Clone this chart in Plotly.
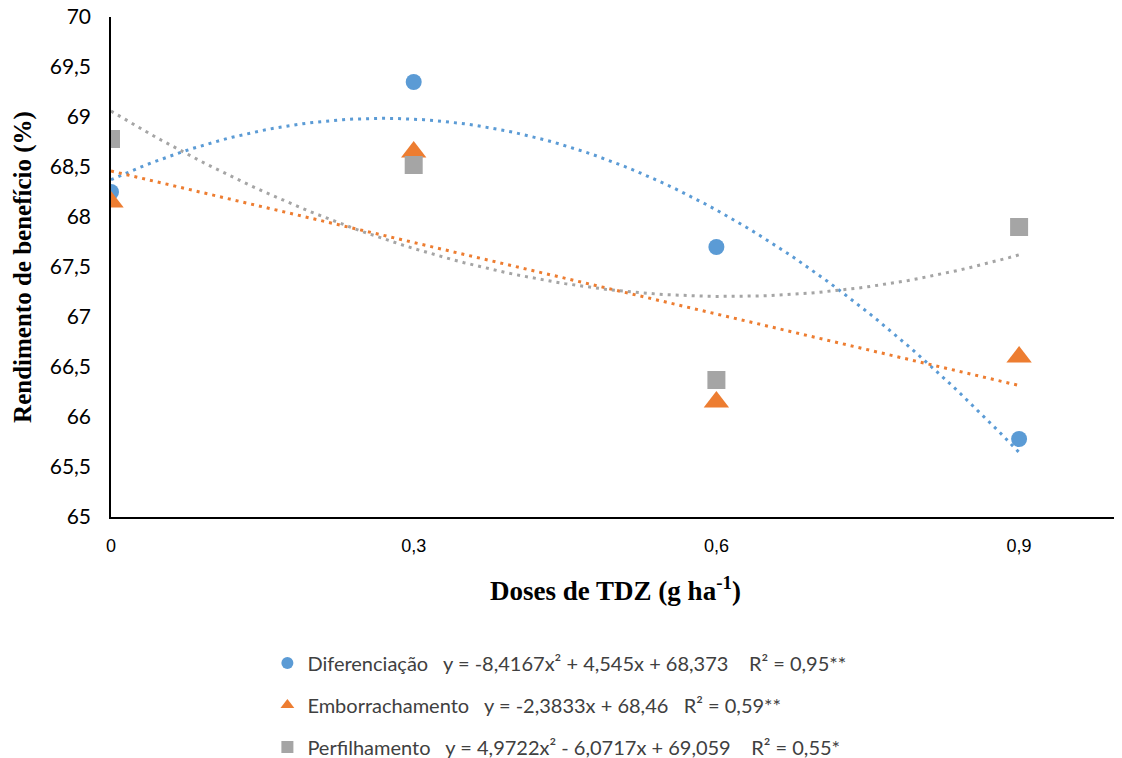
import numpy as np
import plotly.graph_objects as go

doses = [0, 0.3, 0.6, 0.9]
dif_vals = [68.25, 69.35, 67.70, 65.78]
emb_vals = [68.15, 68.65, 66.15, 66.60]
per_vals = [68.78, 68.52, 66.37, 67.90]

# trendline coefficients as printed in the legend (highest power first)
dif_coef = [-8.4167, 4.545, 68.373]
emb_coef = [-2.3833, 68.46]
per_coef = [4.9722, -6.0717, 69.059]

series_names = ["Diferenciação", "Emborrachamento", "Perfilhamento"]
eq_texts = [
    "y = -8,4167x² + 4,545x + 68,373    R² = 0,95**",
    "y = -2,3833x + 68,46   R² = 0,59**",
    "y = 4,9722x² - 6,0717x + 69,059    R² = 0,55*",
]
colors = ["#5B9BD5", "#ED7D31", "#A5A5A5"]
symbols = ["circle", "triangle-up", "square"]
sizes = [16, 22, 18]

fig = go.Figure()
xt = np.linspace(0, 0.9, 91)
for coef, col in zip([dif_coef, emb_coef, per_coef], colors):
    fig.add_trace(go.Scatter(x=xt, y=np.polyval(coef, xt), mode="lines",
                             line=dict(color=col, width=3, dash="3px,5px"),
                             showlegend=False, hoverinfo="skip"))

for i, vals in enumerate([dif_vals, emb_vals, per_vals]):
    fig.add_trace(go.Scatter(x=doses, y=vals, mode="markers",
                             name=series_names[i] + "   " + eq_texts[i],
                             legendgroup="g%d" % i,
                             marker=dict(color=colors[i], symbol=symbols[i], size=sizes[i])))

fig.update_layout(
    width=1122, height=758,
    margin=dict(l=103, r=10, t=9, b=249, autoexpand=False),
    paper_bgcolor="white", plot_bgcolor="white",
    separators=", ",
    font=dict(family="Lato, Open Sans, sans-serif", color="#262626"),
    xaxis=dict(range=[0, 1.0], tickvals=doses, ticktext=["0", "0,3", "0,6", "0,9"],
               automargin=False, ticklabelstandoff=12, ticklabeloverflow="allow",
               showgrid=False, zeroline=False, showline=True, linecolor="black", linewidth=1.5,
               ticks="", tickfont=dict(family="Liberation Sans Narrow, Arial Narrow, sans-serif", size=18, color="black"),
               title=dict(text="<b>Doses de TDZ (g ha<sup>-1</sup>)</b>", standoff=26,
                          font=dict(family="Liberation Serif, Times New Roman, serif", size=27, color="black"))),
    yaxis=dict(range=[65, 70], dtick=0.5, showgrid=False, zeroline=False, showline=True,
               automargin=False, ticklabelstandoff=14, ticklabeloverflow="allow",
               linecolor="black", linewidth=1.5, ticks="",
               tickfont=dict(family="Lato, Open Sans, sans-serif", size=21, color="black"),
               title=dict(text="<b>Rendimento de benefício (%)</b>", standoff=11,
                          font=dict(family="Liberation Serif, Times New Roman, serif", size=25, color="black"))),
    legend=dict(x=0.155, y=-0.253, xanchor="left", yanchor="top", orientation="v",
                tracegroupgap=13, font=dict(family="Lato, Open Sans, sans-serif", size=20, color="#404040"),
                itemsizing="constant", bgcolor="rgba(0,0,0,0)"),
)
fig.write_html("out.html")
